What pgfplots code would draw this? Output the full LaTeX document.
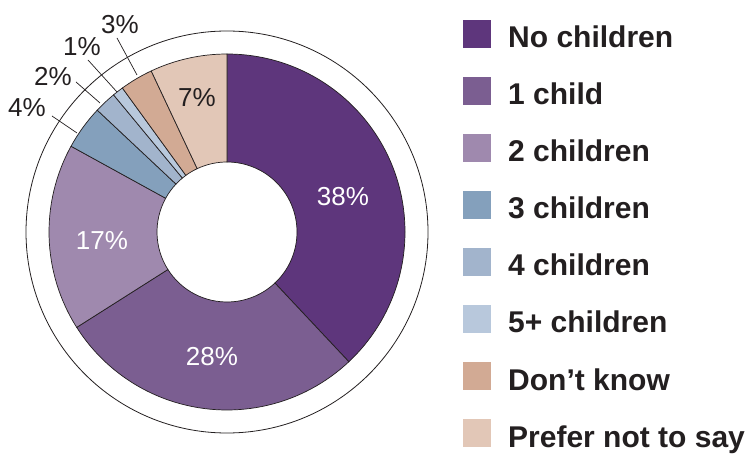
\documentclass[border=0pt]{standalone}
\usepackage{pgfplots}
\pgfplotsset{compat=1.18}
\usepackage{fontspec}
\setmainfont{Liberation Sans}
\definecolor{c1}{HTML}{5E367C}
\definecolor{c2}{HTML}{7B5E91}
\definecolor{c3}{HTML}{9F89AE}
\definecolor{c4}{HTML}{84A0BC}
\definecolor{c5}{HTML}{A2B4CC}
\definecolor{c6}{HTML}{B8C8DC}
\definecolor{c7}{HTML}{D2AA94}
\definecolor{c8}{HTML}{E2C7B7}
\definecolor{txt}{HTML}{231F20}

\newcommand\cum{0}
\newcommand\slice[2]{%
 \pgfmathsetmacro\sa{90-3.6*\cum}%
 \pgfmathsetmacro\nc{\cum+#1}%
 \pgfmathsetmacro\sb{90-3.6*\nc}%
 \edef\temp{\noexpand\filldraw[fill=#2,draw=txt,line width=0.7pt] ([shift={(\sa:178pt)}]axis cs:227,223) arc[start angle=\sa,end angle=\sb,radius=178pt] -- ([shift={(\sb:70pt)}]axis cs:227,223) arc[start angle=\sb,end angle=\sa,radius=70pt] -- cycle;}%
 \temp
 \global\let\cum\nc
}
\newcommand\legrow[3]{%
 \fill[#2] (axis cs:463,#1) rectangle (axis cs:491,#1+28);
 \node[anchor=base west, inner sep=0pt, text=txt, font=\bfseries\fontsize{30}{36}\selectfont] at (axis cs:508,#1) {#3};
}
\newcommand\numfont{\fontsize{26}{31}\selectfont}

\begin{document}
\begin{tikzpicture}
\begin{axis}[
  width=751pt, height=455pt, scale only axis,
  xmin=0, xmax=751, ymin=0, ymax=455,
  hide axis, clip=false,
]
% values (percent), clockwise from top
\slice{38}{c1}
\slice{28}{c2}
\slice{17}{c3}
\slice{4}{c4}
\slice{2}{c5}
\slice{1}{c6}
\slice{3}{c7}
\slice{7}{c8}
\draw[txt, line width=0.8pt] (axis cs:227,223) circle[radius=201pt];

\node[text=white, font=\numfont, inner sep=0pt] at (axis cs:343,258) {38\%};
\node[text=white, font=\numfont, inner sep=0pt] at (axis cs:212,98) {28\%};
\node[text=white, font=\numfont, inner sep=0pt] at (axis cs:102,214) {17\%};
\node[text=txt, font=\numfont, inner sep=0pt] at (axis cs:197,357) {7\%};

\draw[txt, line width=0.7pt] (axis cs:52,339) -- (axis cs:77,322);
\draw[txt, line width=0.7pt] (axis cs:76,373) -- (axis cs:100,352);
\draw[txt, line width=0.7pt] (axis cs:88,395) -- (axis cs:117,363);
\draw[txt, line width=0.7pt] (axis cs:117,417) -- (axis cs:137,380);
\node[text=txt, font=\numfont, inner sep=0pt] at (axis cs:27,347) {4\%};
\node[text=txt, font=\numfont, inner sep=0pt] at (axis cs:53,378) {2\%};
\node[text=txt, font=\numfont, inner sep=0pt] at (axis cs:82,408) {1\%};
\node[text=txt, font=\numfont, inner sep=0pt] at (axis cs:120,430) {3\%};

\legrow{407}{c1}{No children}
\legrow{350}{c2}{1 child}
\legrow{293}{c3}{2 children}
\legrow{236}{c4}{3 children}
\legrow{179}{c5}{4 children}
\legrow{122}{c6}{5+ children}
\legrow{65}{c7}{Don’t know}
\legrow{8}{c8}{Prefer not to say}
\end{axis}
\pgfresetboundingbox
\useasboundingbox (current axis.south west) rectangle (current axis.north east);
\end{tikzpicture}
\end{document}
